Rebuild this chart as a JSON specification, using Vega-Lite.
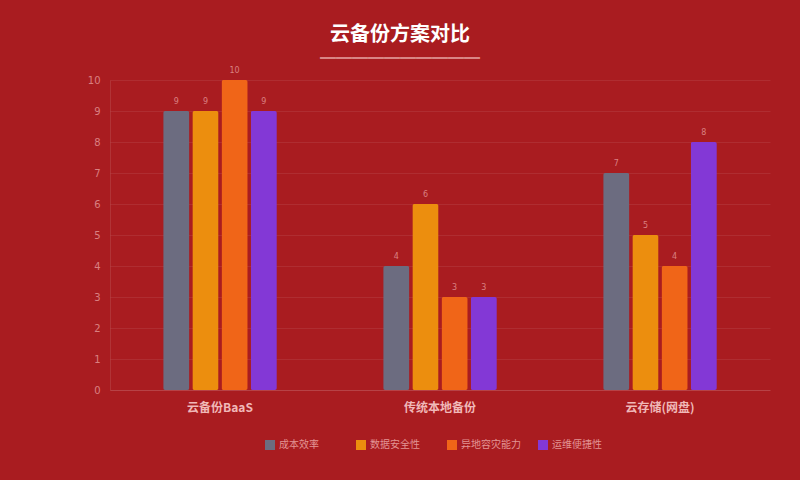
{
  "$schema": "https://vega.github.io/schema/vega-lite/v6.json",
  "background": "#A91C20",
  "autosize": "none",
  "padding": {"left": 110, "top": 80, "right": 30, "bottom": 90},
  "width": 660,
  "height": 310,
  "title": {
    "text": "云备份方案对比",
    "subtitle": "━━━━━━━━━━",
    "anchor": "middle",
    "frame": "group",
    "dx": -40,
    "offset": 0,
    "font": "Noto Sans CJK SC",
    "fontSize": 20,
    "fontWeight": "bold",
    "color": "#FFFFFF",
    "subtitleFont": "Noto Sans CJK SC",
    "subtitleFontSize": 16,
    "subtitleColor": "#D98585",
    "subtitlePadding": 6
  },
  "config": {
    "font": "Noto Sans CJK SC",
    "view": {"stroke": null},
    "axis": {
      "gridColor": "#FFFFFF",
      "gridOpacity": 0.08,
      "domainColor": "#FFFFFF",
      "domainOpacity": 0.1,
      "ticks": false
    }
  },
  "data": {
    "values": [
      {"plan": "云备份BaaS", "metric": "成本效率", "score": 9},
      {"plan": "云备份BaaS", "metric": "数据安全性", "score": 9},
      {"plan": "云备份BaaS", "metric": "异地容灾能力", "score": 10},
      {"plan": "云备份BaaS", "metric": "运维便捷性", "score": 9},
      {"plan": "传统本地备份", "metric": "成本效率", "score": 4},
      {"plan": "传统本地备份", "metric": "数据安全性", "score": 6},
      {"plan": "传统本地备份", "metric": "异地容灾能力", "score": 3},
      {"plan": "传统本地备份", "metric": "运维便捷性", "score": 3},
      {"plan": "云存储(网盘)", "metric": "成本效率", "score": 7},
      {"plan": "云存储(网盘)", "metric": "数据安全性", "score": 5},
      {"plan": "云存储(网盘)", "metric": "异地容灾能力", "score": 4},
      {"plan": "云存储(网盘)", "metric": "运维便捷性", "score": 8}
    ]
  },
  "encoding": {
    "x": {
      "field": "plan",
      "type": "nominal",
      "sort": null,
      "scale": {"paddingInner": 0.47, "paddingOuter": 0.235},
      "axis": {
        "title": null,
        "labelAngle": 0,
        "labelFontSize": 12,
        "labelFontWeight": "bold",
        "labelColor": "#F0B8B8",
        "labelPadding": 12,
        "domain": true,
        "grid": false
      }
    },
    "xOffset": {
      "field": "metric",
      "type": "nominal",
      "sort": ["成本效率", "数据安全性", "异地容灾能力", "运维便捷性"],
      "scale": {"paddingInner": 0.1, "paddingOuter": 0.05}
    },
    "y": {
      "field": "score",
      "type": "quantitative",
      "scale": {"domain": [0, 10], "nice": false},
      "axis": {
        "title": null,
        "values": [0, 1, 2, 3, 4, 5, 6, 7, 8, 9, 10],
        "labelOverlap": false,
        "labelFontSize": 10,
        "labelColor": "#D98080",
        "labelPadding": 10,
        "labelFont": "DejaVu Sans",
        "domain": true
      }
    }
  },
  "layer": [
    {
      "mark": {"type": "bar", "cornerRadius": 2},
      "encoding": {
        "color": {
          "field": "metric",
          "type": "nominal",
          "sort": ["成本效率", "数据安全性", "异地容灾能力", "运维便捷性"],
          "scale": {
            "domain": ["成本效率", "数据安全性", "异地容灾能力", "运维便捷性"],
            "range": ["#6C6C80", "#EC8E0E", "#F06518", "#8338D6"]
          },
          "legend": {
            "title": null,
            "orient": "none",
            "legendX": 155,
            "legendY": 360,
            "direction": "horizontal",
            "columns": 4,
            "gridAlign": "all",
            "columnPadding": 17,
            "symbolType": "square",
            "symbolSize": 100,
            "symbolStrokeWidth": 0,
            "symbolOpacity": 1,
            "labelFontSize": 10,
            "labelColor": "#E29494",
            "labelOffset": 4
          }
        }
      }
    },
    {
      "mark": {
        "type": "text",
        "baseline": "bottom",
        "dy": -5,
        "fontSize": 8,
        "font": "DejaVu Sans",
        "color": "#D98080"
      },
      "encoding": {
        "text": {"field": "score", "type": "quantitative"}
      }
    }
  ]
}
